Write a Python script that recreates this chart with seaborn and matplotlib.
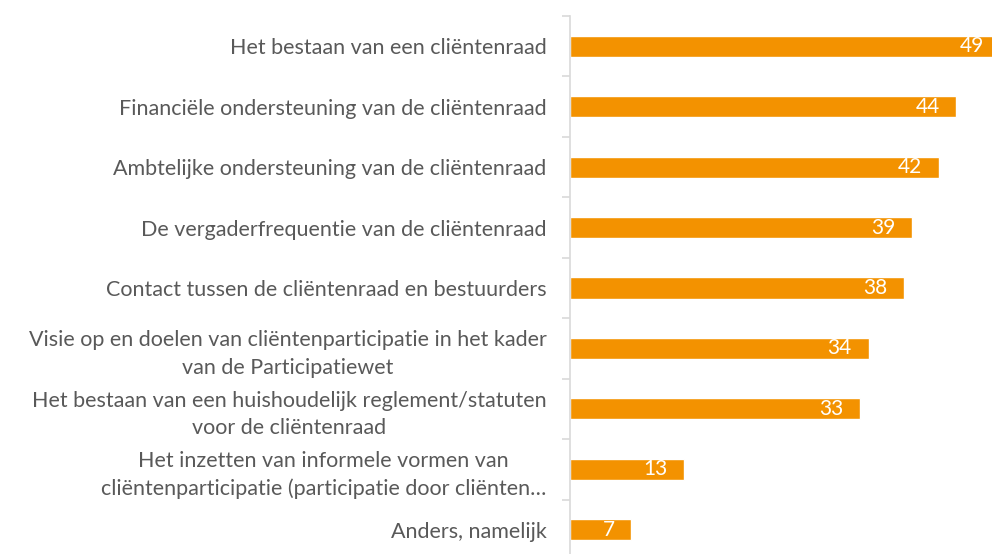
import matplotlib
matplotlib.use("Agg")
import matplotlib.pyplot as plt
import seaborn as sns
import pandas as pd

categories = [
    "Het bestaan van een cliëntenraad",
    "Financiële ondersteuning van de cliëntenraad",
    "Ambtelijke ondersteuning van de cliëntenraad",
    "De vergaderfrequentie van de cliëntenraad",
    "Contact tussen de cliëntenraad en bestuurders",
    "Visie op en doelen van cliëntenparticipatie in het kader\nvan de Participatiewet",
    "Het bestaan van een huishoudelijk reglement/statuten\nvoor de cliëntenraad",
    "Het inzetten van informele vormen van\ncliëntenparticipatie (participatie door cliënten…",
    "Anders, namelijk",
]
values = [49, 44, 42, 39, 38, 34, 33, 13, 7]

df = pd.DataFrame({"cat": categories, "val": values})

sns.set_theme(style="white")
plt.rcParams["font.family"] = ["Lato", "DejaVu Sans"]

W, H = 992, 554
fig = plt.figure(figsize=(W / 100, H / 100), dpi=100)
left, right = 570, 1009
top, bottom = 16, 560
ax = fig.add_axes([left / W, 1 - bottom / H, (right - left) / W, (bottom - top) / H])

orange = "#F39200"
sns.barplot(data=df, x="val", y="cat", color=orange, width=0.35, ax=ax,
            saturation=1, orient="h")
ax.set_xlim(0, 50)
ax.set_ylim(len(categories) - 0.5, -0.5)

for p, v in zip(ax.patches, values):
    y = p.get_y() + p.get_height() / 2
    ax.annotate(str(v), xy=(p.get_width(), y), xytext=(-12, 0),
                textcoords="offset points", ha="right", va="center",
                color="white", fontsize=15)

for s in ["top", "right", "bottom"]:
    ax.spines[s].set_visible(False)
ax.spines["left"].set_color("#d9d9d9")
ax.spines["left"].set_linewidth(1.2)
ax.set_xticks([])
ax.set_xlabel("")
ax.set_ylabel("")

ax.set_yticks(range(len(categories)))
ax.set_yticklabels(categories, fontsize=15.5, color="#595959",
                   multialignment="center", linespacing=1.45)
ax.tick_params(axis="y", length=0, pad=17)
# boundary tick marks
ax.set_yticks([i - 0.5 for i in range(len(categories) + 1)], minor=True)
ax.tick_params(axis="y", which="minor", length=6, color="#d9d9d9", width=1.2, left=True)

fig.savefig("out.png", dpi=100)
